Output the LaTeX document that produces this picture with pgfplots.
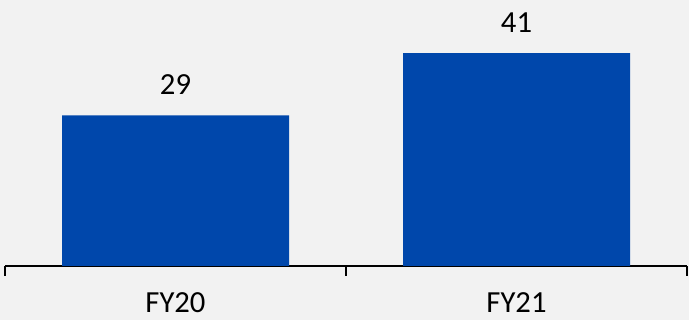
\documentclass[border=0pt]{standalone}
\usepackage{pgfplots}
\pgfplotsset{compat=1.18}
\usepackage{fontspec}
\setmainfont{Carlito}
\definecolor{bg}{RGB}{242,242,242}
\definecolor{barblue}{RGB}{0,71,171}
\begin{document}
\begin{tikzpicture}[x=0.75pt,y=0.75pt]
\fill[bg] (0,0) rectangle (689,320);
\path[use as bounding box] (0,0) rectangle (689,320);
\begin{axis}[
  at={(5*0.75pt,54*0.75pt)}, anchor=south west,
  scale only axis,
  width=682*0.75pt, height=266*0.75pt,
  xmin=-0.5, xmax=1.5, ymin=0, ymax=51.25,
  axis y line=none,
  axis x line*=bottom,
  x axis line style={line width=1.6pt, -},
  ybar, bar width=227*0.75pt,
  xtick={0,1}, xticklabels={FY20,FY21},
  major tick length=0pt,
  extra x ticks={-0.5,0.5,1.5}, extra x tick labels={},
  extra x tick style={tick align=outside, major tick length=7.5pt, tick style={black, line width=1.6pt}},
  tick label style={font=\fontsize{23}{27}\selectfont, text=black},
  xticklabel style={yshift=-16.5pt},
  /pgf/number format/assume math mode=true,
  nodes near coords,
  every node near coord/.append style={font=\fontsize{23}{27}\selectfont, text=black, yshift=12pt},
  axis background/.style={fill=bg},
  clip=false,
]
\addplot[fill=barblue, draw=none] coordinates {(0,29) (1,41)};
\end{axis}
\end{tikzpicture}
\end{document}
